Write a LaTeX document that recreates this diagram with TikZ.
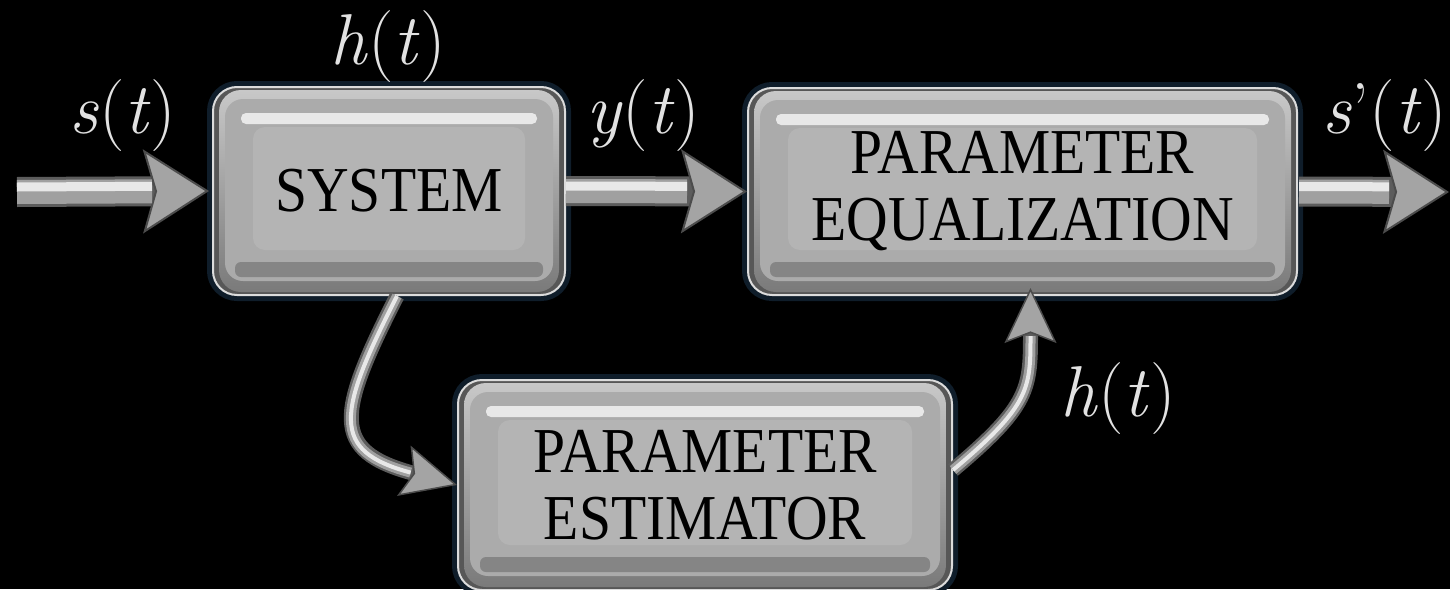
\documentclass[tikz,border=0pt]{standalone}
\usepackage{fontspec}
\newfontfamily\boxfont{Liberation Serif}[FakeStretch=0.9]
\usetikzlibrary{arrows.meta}
\definecolor{bgc}{HTML}{000000}
\definecolor{lblc}{HTML}{E2E2E2}
\definecolor{glowc}{HTML}{0F1D2A}
\definecolor{edgec}{HTML}{575757}
\definecolor{outlc}{HTML}{DCDCDC}
\definecolor{midc}{HTML}{ABABAB}
\definecolor{platc}{HTML}{B4B4B4}
\definecolor{hic}{HTML}{E8E8E8}
\definecolor{lowc}{HTML}{858585}
\definecolor{topc}{HTML}{C8C8C8}
\definecolor{botc}{HTML}{7A7A7A}
\definecolor{shaftD}{HTML}{5C5C5C}
\definecolor{shaftM}{HTML}{A0A0A0}
\definecolor{shaftH}{HTML}{E8E8E8}
\definecolor{headF}{HTML}{A4A4A4}
\definecolor{headD}{HTML}{4C4C4C}
\tikzset{
  bx/.style={rounded corners=24pt, inner sep=0pt, align=center, text=black,
    font=\boxfont\fontsize{64}{67}\selectfont,
    fill=edgec, draw=outlc, line width=2pt,
    preaction={draw=glowc, line width=12pt},
    path picture={
      \coordinate (nw) at (path picture bounding box.north west);
      \coordinate (se) at (path picture bounding box.south east);
      \shade[top color=topc, bottom color=botc, rounded corners=22pt]
        ([shift={(6pt,-3pt)}]nw) rectangle ([shift={(-6pt,3pt)}]se);
      \fill[midc, rounded corners=18pt]
        ([shift={(12pt,-12pt)}]nw) rectangle ([shift={(-12pt,14pt)}]se);
      \fill[lowc, rounded corners=6pt]
        ([shift={(22pt,18pt)}]se -| nw) rectangle ([shift={(-22pt,33pt)}]se);
      \fill[hic, rounded corners=5pt]
        ([shift={(28pt,-26pt)}]nw) rectangle ([shift={(-28pt,-37pt)}]nw -| se);
      \fill[platc, rounded corners=12pt]
        ([shift={(40pt,-40pt)}]nw) rectangle ([shift={(-40pt,45pt)}]se);
    }},
  lbl/.style={inner sep=0pt, text=lblc, font=\fontsize{72}{80}\selectfont},
  harr/.style={line width=30pt, draw=shaftD,
    -{Stealth[length=66pt, width=84pt, inset=12pt, line width=2pt, fill=headF, color=headD]},
    postaction={draw=shaftM, line width=24pt, arrows=-, shorten >=60pt},
    postaction={draw=shaftH, line width=9pt, arrows=-, shorten >=60pt, transform canvas={yshift=5pt}}},
  carr/.style={line width=15pt, draw=shaftD,
    -{Stealth[length=55pt, width=52pt, inset=10pt, line width=1.5pt, fill=headF, color=headD]},
    postaction={draw=shaftM, line width=10pt, arrows=-, shorten >=48pt},
    postaction={draw=shaftH, line width=4pt, arrows=-, shorten >=48pt}},
}
\begin{document}
\begin{tikzpicture}[x=1pt, y=-1pt]
  \fill[bgc] (0,0) rectangle (1450,589);
  \useasboundingbox (0,0) rectangle (1450,589);

  \node[bx, minimum width=352pt, minimum height=208pt] (sys) at (389,191) {SYSTEM};
  \node[bx, minimum width=549pt, minimum height=207pt] (eq) at (1022.5,191.5) {PARAMETER\\EQUALIZATION};
  \node[bx, minimum width=494pt, minimum height=210pt] (est) at (705,485) {PARAMETER\\ESTIMATOR};

  \coordinate (inS) at (17,192);
  \coordinate (outE) at (1449,192);
  \draw[harr, shorten >=3pt] (inS) -- (sys.west);
  \draw[harr] (sys.east) -- (eq.west);
  \draw[harr, shorten <=1pt] (eq.east) -- (outE);

  \draw[carr] ([xshift=8pt]sys.south) to[out=243, in=165, looseness=1.7] (est.west);
  \draw[carr] ([yshift=15pt]est.east) to[out=40, in=-90, looseness=1.3] ([shift={(8pt,8pt)}]eq.south);

  \node[lbl] (ls) at (123,116) {\textit{s}(\textit{t})};
  \node[lbl] (lh1) at (388,47) {\textit{h}(\textit{t})};
  \node[lbl] (ly) at (643,116) {\textit{y}(\textit{t})};
  \node[lbl, anchor=west] (ls2) at (1322,116) {\textit{s}’(\textit{t})};
  \node[lbl] (lh2) at (1118,399) {\textit{h}(\textit{t})};
\end{tikzpicture}
\end{document}
